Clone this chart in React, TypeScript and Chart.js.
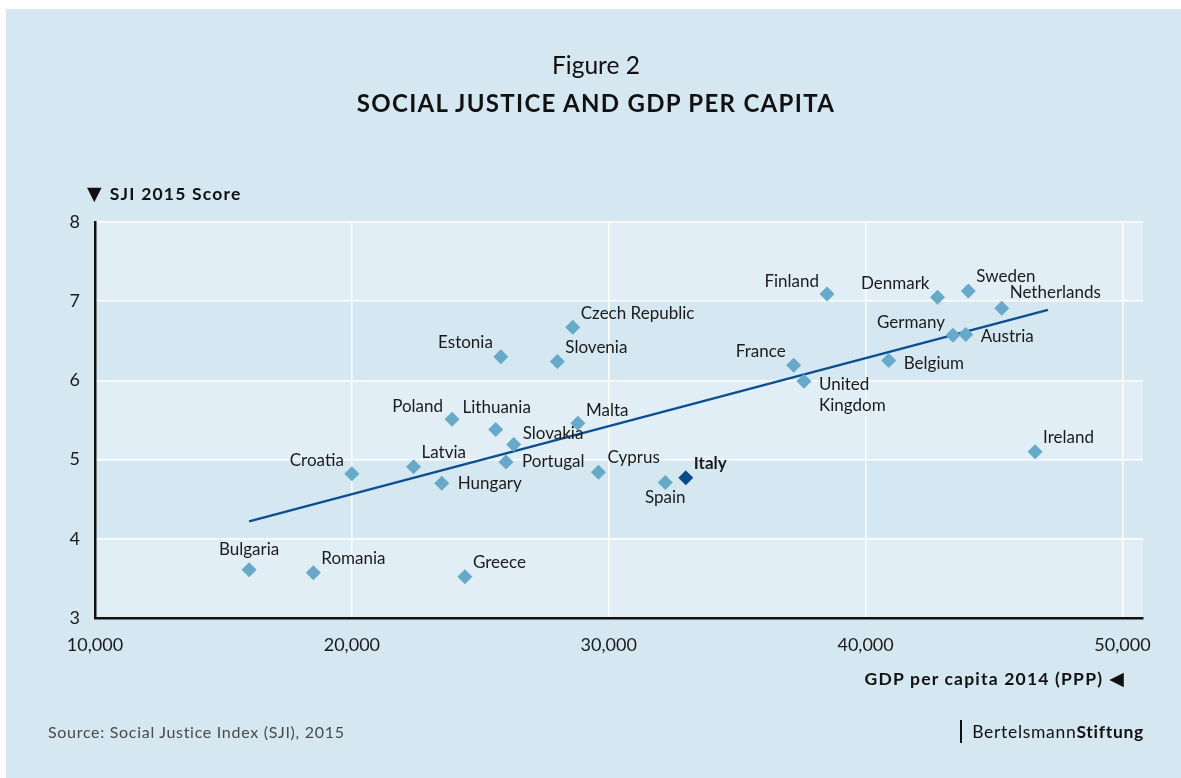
import React, { useEffect, useRef } from "react";
import { Chart, registerables } from "chart.js";

Chart.register(...registerables);

// ---------- data ----------
const countries = [
  "Bulgaria", "Romania", "Croatia", "Latvia", "Hungary", "Poland", "Lithuania", "Greece",
  "Estonia", "Slovakia", "Portugal", "Slovenia", "Czech Republic", "Malta", "Cyprus", "Spain",
  "Italy", "France", "United Kingdom", "Finland", "Belgium", "Denmark", "Germany", "Austria",
  "Sweden", "Netherlands", "Ireland",
];
const gdpPerCapita = [
  16000, 18500, 20000, 22400, 23500, 23900, 25600, 24400,
  25800, 26300, 26000, 28000, 28600, 28800, 29600, 32200,
  33000, 37200, 37600, 38500, 40900, 42800, 43400, 43900,
  44000, 45300, 46600,
];
const sjiScore = [
  3.61, 3.57, 4.82, 4.91, 4.70, 5.51, 5.38, 3.52,
  6.30, 5.19, 4.97, 6.24, 6.67, 5.46, 4.84, 4.71,
  4.77, 6.19, 5.99, 7.09, 6.25, 7.05, 6.57, 6.58,
  7.13, 6.91, 5.10,
];
const trendX = [16000, 47100];
const trendY = [4.22, 6.89];
const xTicks = [10000, 20000, 30000, 40000, 50000];
const yTicks = [3, 4, 5, 6, 7, 8];
const highlighted = "Italy";

// ---------- label layout (offsets in px from the point) ----------
const labelLayout: Record<string, [number, number, CanvasTextAlign]> = {
  Bulgaria: [0, -20, "center"],
  Romania: [8, -14, "left"],
  Croatia: [-8, -13, "right"],
  Latvia: [8, -14, "left"],
  Hungary: [16, 0, "left"],
  Poland: [-9, -13, "right"],
  Lithuania: [1, -22, "center"],
  Greece: [8, -14, "left"],
  Estonia: [-8, -14, "right"],
  Slovakia: [9, -11, "left"],
  Portugal: [16, 0, "left"],
  Slovenia: [8, -14, "left"],
  "Czech Republic": [8, -14, "left"],
  Malta: [8, -13, "left"],
  Cyprus: [9, -15, "left"],
  Spain: [0, 15, "center"],
  Italy: [8, -14, "left"],
  France: [-8, -14, "right"],
  "United Kingdom": [15, 3, "left"],
  Finland: [-8, -13, "right"],
  Belgium: [15, 3, "left"],
  Denmark: [-8, -14, "right"],
  Germany: [-8, -13, "right"],
  Austria: [15, 2, "left"],
  Sweden: [8, -14, "left"],
  Netherlands: [8, -16, "left"],
  Ireland: [8, -14, "left"],
};
const labelLines: Record<string, string[]> = {
  "United Kingdom": ["United", "Kingdom"],
};

const PANEL = "#d5e7f1";
const BAND = "#e1eef6";
const POINT = "#66a9c9";
const POINT_HI = "#0d4a87";
const TREND = "#0b4f91";
const FONT = "Lato, 'Noto Sans', sans-serif";

const bandsPlugin = {
  id: "bands",
  beforeDraw(chart: any) {
    const { ctx, chartArea } = chart;
    const y = chart.scales.y;
    ctx.save();
    ctx.fillStyle = PANEL;
    ctx.fillRect(chartArea.left, chartArea.top, chartArea.right - chartArea.left, chartArea.bottom - chartArea.top);
    for (let i = 0; i < yTicks.length - 1; i++) {
      const lo = yTicks[i];
      const hi = yTicks[i + 1];
      if (i % 2 === 0) {
        const top = y.getPixelForValue(hi);
        const bot = y.getPixelForValue(lo);
        ctx.fillStyle = BAND;
        ctx.fillRect(chartArea.left, top, chartArea.right - chartArea.left, bot - top);
      }
    }
    ctx.restore();
  },
};

const labelsPlugin = {
  id: "pointLabels",
  afterDatasetsDraw(chart: any) {
    const { ctx } = chart;
    const meta = chart.getDatasetMeta(1);
    ctx.save();
    ctx.textBaseline = "middle";
    ctx.fillStyle = "#1b1b1b";
    meta.data.forEach((el: any, i: number) => {
      const name = countries[i];
      const lay = labelLayout[name] || [8, -14, "left"];
      ctx.font = (name === highlighted ? "bold " : "") + "17px " + FONT;
      ctx.textAlign = lay[2];
      const lines = labelLines[name] || [name];
      lines.forEach((ln, k) => {
        ctx.fillText(ln, el.x + lay[0], el.y + lay[1] + k * 21);
      });
    });
    ctx.restore();
  },
};

export default function App() {
  const ref = useRef<HTMLCanvasElement | null>(null);

  useEffect(() => {
    if (!ref.current) return;
    const chart = new Chart(ref.current, {
      type: "scatter",
      data: {
        datasets: [
          {
            type: "line",
            data: trendX.map((x, i) => ({ x, y: trendY[i] })),
            borderColor: TREND,
            borderWidth: 2.5,
            pointRadius: 0,
            fill: false,
            order: 2,
          } as any,
          {
            data: gdpPerCapita.map((x, i) => ({ x, y: sjiScore[i] })),
            pointStyle: "rectRot",
            pointRadius: 7.5,
            pointHoverRadius: 7.5,
            pointBorderWidth: 0,
            pointBackgroundColor: countries.map((c) => (c === highlighted ? POINT_HI : POINT)),
            order: 1,
          } as any,
        ],
      },
      options: {
        animation: false,
        responsive: false,
        maintainAspectRatio: false,
        layout: { padding: { left: 0, top: 222, right: 38, bottom: 0 } },
        plugins: {
          legend: { display: false },
          tooltip: { enabled: false },
          title: { display: false },
        },
        scales: {
          x: {
            type: "linear",
            min: 10000,
            max: 50800,
            afterBuildTicks: (scale: any) => {
              scale.ticks = xTicks.map((v) => ({ value: v }));
            },
            afterFit: (scale: any) => {
              scale.height = 778 - 618;
            },
            grid: { color: "#ffffff", lineWidth: 1.5, drawTicks: false },
            border: { display: true, color: "#111111", width: 2.5 },
            ticks: {
              padding: 16,
              color: "#1b1b1b",
              font: { family: FONT, size: 18 },
              maxRotation: 0,
              callback: (v: any) => Number(v).toLocaleString("en-US"),
            },
          },
          y: {
            type: "linear",
            min: 3,
            max: 8,
            afterBuildTicks: (scale: any) => {
              scale.ticks = yTicks.map((v) => ({ value: v }));
            },
            afterFit: (scale: any) => {
              scale.width = 95;
            },
            grid: { color: "#ffffff", lineWidth: 1.5, drawTicks: false },
            border: { display: true, color: "#111111", width: 2.5 },
            ticks: {
              padding: 15,
              color: "#1b1b1b",
              font: { family: FONT, size: 18 },
            },
          },
        },
      },
      plugins: [bandsPlugin, labelsPlugin],
    });
    return () => chart.destroy();
  }, []);

  const abs = (s: React.CSSProperties): React.CSSProperties => ({ position: "absolute", whiteSpace: "nowrap", ...s });

  return (
    <div style={{ position: "fixed", left: 0, top: 0, width: 1181, height: 778, background: "#ffffff", overflow: "hidden", fontFamily: FONT }}>
      <div style={abs({ left: 6, top: 9, width: 1175, height: 769, background: PANEL })} />
      <canvas ref={ref} width={1181} height={778} style={{ position: "absolute", left: 0, top: 0, width: 1181, height: 778 }} />
      <div style={abs({ left: 0, width: 1192, top: 50, textAlign: "center", fontSize: 24.5, color: "#111", lineHeight: "30px" })}>Figure 2</div>
      <div style={abs({ left: 0, width: 1192, top: 88, textAlign: "center", fontSize: 24, fontWeight: 700, letterSpacing: 1.3, color: "#111", lineHeight: "30px" })}>
        SOCIAL JUSTICE AND GDP PER CAPITA
      </div>
      <div style={abs({ left: 87, top: 182, fontSize: 17.5, fontWeight: 700, letterSpacing: 1.2, color: "#111", lineHeight: "22px" })}>
        <span style={{ fontSize: 19, marginRight: 7, fontFamily: "'DejaVu Sans', sans-serif" }}>▼</span>SJI 2015 Score
      </div>
      <div style={abs({ right: 1181 - 1125, top: 667, fontSize: 17.5, fontWeight: 700, letterSpacing: 1.2, color: "#111", lineHeight: "22px" })}>
        GDP per capita 2014 (PPP)<span style={{ fontSize: 19, marginLeft: 6, fontFamily: "'DejaVu Sans', sans-serif" }}>◀</span>
      </div>
      <div style={abs({ left: 48, top: 721, fontSize: 16, letterSpacing: 0.7, color: "#4a4a4a", lineHeight: "22px" })}>
        Source: Social Justice Index (SJI), 2015
      </div>
      <div style={abs({ left: 960, top: 720, width: 2, height: 23, background: "#111" })} />
      <div style={abs({ right: 1181 - 1144, top: 721, fontSize: 17.5, letterSpacing: 0.7, color: "#111", lineHeight: "22px" })}>
        Bertelsmann<b>Stiftung</b>
      </div>
    </div>
  );
}
